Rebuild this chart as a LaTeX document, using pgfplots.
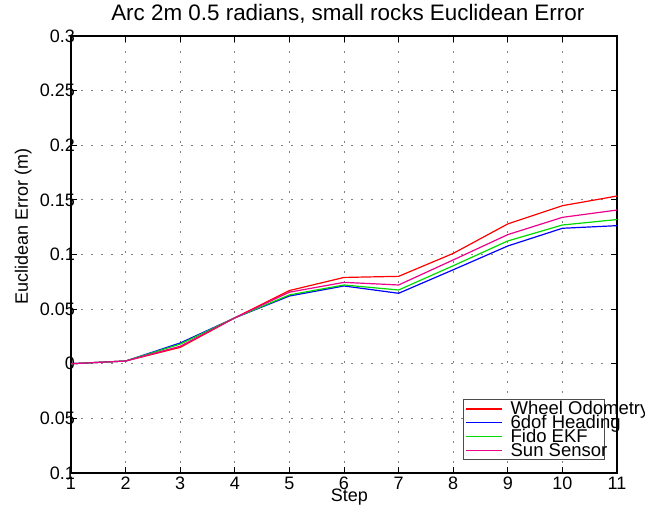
\documentclass[border=0pt]{standalone}
\usepackage{fontspec}
\setmainfont{Liberation Sans}
\usepackage{pgfplots}
\pgfplotsset{compat=1.18}

% Euclidean error per step for each estimator
\begin{document}
\begin{tikzpicture}
\begin{axis}[
  at={(0,0)}, anchor=south west,
  scale only axis,
  width=546bp, height=437bp,
  xmin=1, xmax=11, ymin=-0.1, ymax=0.3,
  xtick={1,...,11},
  ytick={-0.1,-0.05,0,0.05,0.1,0.15,0.2,0.25,0.3},
  yticklabels={0.1,0.05,0,0.05,0.1,0.15,0.2,0.25,0.3},
  /pgf/number format/assume math mode=true,
  tick label style={font=\fontsize{18bp}{21bp}\selectfont},
  yticklabel style={anchor=east, inner sep=0pt, xshift=4bp},
  xticklabel style={anchor=north, inner sep=0pt, yshift=-4bp},
  tick align=inside,
  major tick length=6bp,
  tick style={black, line width=0.8bp},
  axis line style={black, line width=1.2bp},
  grid=major,
  major grid style={black!50, line width=0.9bp, dash pattern=on 1.5bp off 8.5bp},
  title={Arc 2m 0.5 radians, small rocks Euclidean Error},
  title style={font=\fontsize{22.4bp}{26bp}\selectfont, at={(axis description cs:0.507,1)}, anchor=base, yshift=9.5bp},
  xlabel={Step},
  xlabel style={font=\fontsize{18bp}{21bp}\selectfont, at={(axis description cs:0.51,0)}, anchor=base, yshift=-28bp},
  ylabel={Euclidean Error (m)},
  ylabel style={font=\fontsize{18bp}{21bp}\selectfont, at={(axis description cs:-0.079,0.565)}, anchor=base},
  legend style={at={(rel axis cs:0.718,0.169)}, anchor=north west,
    draw=black!70, line width=0.8bp, fill=white,
    inner xsep=2bp, inner ysep=0pt,
    font=\fontsize{18.5bp}{21bp}\selectfont,
    column sep=6bp, row sep=-5bp},
  legend cell align=left,
  legend image code/.code={\draw[#1, line width=1.2bp] (0bp,0bp) -- (36bp,0bp);},
]
\addplot[red, line width=1.2bp] coordinates {
  (1,0) (2,0.0025) (3,0.015) (4,0.042) (5,0.067) (6,0.079)
  (7,0.080) (8,0.101) (9,0.128) (10,0.1447) (11,0.1535)};
\addplot[blue, line width=1.2bp] coordinates {
  (1,0) (2,0.0025) (3,0.019) (4,0.042) (5,0.062) (6,0.0712)
  (7,0.0645) (8,0.086) (9,0.1078) (10,0.124) (11,0.1264)};
\addplot[green!85!black, line width=1.2bp] coordinates {
  (1,0) (2,0.0025) (3,0.018) (4,0.042) (5,0.063) (6,0.0721)
  (7,0.0675) (8,0.0897) (9,0.1124) (10,0.127) (11,0.132)};
\addplot[magenta, line width=1.2bp] coordinates {
  (1,0) (2,0.0025) (3,0.016) (4,0.042) (5,0.0655) (6,0.0745)
  (7,0.0721) (8,0.095) (9,0.1182) (10,0.134) (11,0.1407)};
\legend{\makebox[90bp][l]{Wheel Odometry},\makebox[90bp][l]{6dof Heading},\makebox[90bp][l]{Fido EKF},\makebox[90bp][l]{Sun Sensor}}
\end{axis}
\pgfresetboundingbox
\path (-71bp,-33bp) rectangle (574bp,473bp);
\end{tikzpicture}
\end{document}
